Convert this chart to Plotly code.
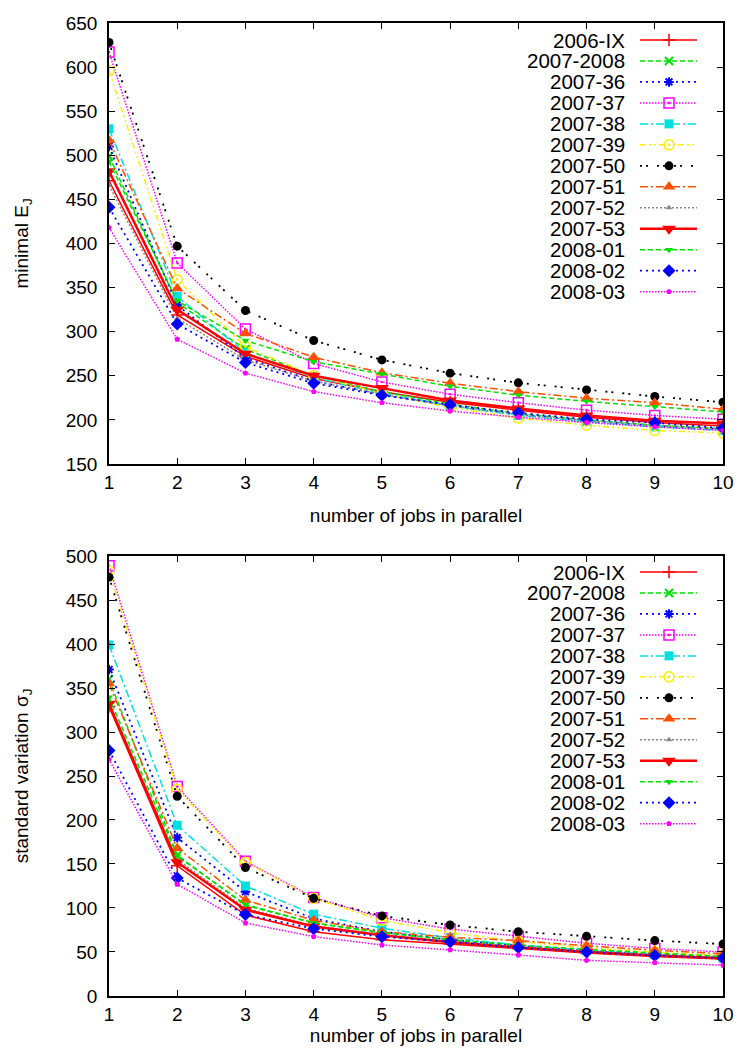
import plotly.graph_objects as go

jobs = [1, 2, 3, 4, 5, 6, 7, 8, 9, 10]
series_names = ["2006-IX", "2007-2008", "2007-36", "2007-37", "2007-38", "2007-39",
                "2007-50", "2007-51", "2007-52", "2007-53", "2008-01", "2008-02", "2008-03"]

# minimal E_J
ej_2006_IX = [471, 319, 272, 247, 232, 220, 211, 203, 197, 193]
ej_2007_2008 = [499, 333, 280, 250, 232, 218, 207, 200, 194, 190]
ej_2007_36 = [510, 330, 270, 244, 229, 216, 206, 199, 193, 189]
ej_2007_37 = [617, 378, 303, 264, 243, 229, 219.5, 211, 205, 200.7]
ej_2007_38 = [530, 340, 276, 248, 230, 216, 205, 198, 192, 188]
ej_2007_39 = [596, 359, 283, 250, 230, 214, 202, 194, 188, 185]
ej_2007_50 = [628, 397, 324, 290, 268, 253, 242, 234, 226.5, 220]
ej_2007_51 = [517, 349, 298, 271, 253.5, 241.5, 232, 224.5, 219.5, 212]
ej_2007_52 = [466, 315, 268, 244, 229, 216, 206, 199, 194, 190]
ej_2007_53 = [482, 325, 275, 250, 236, 222, 213, 205, 199, 196]
ej_2008_01 = [493, 335, 290, 266, 252, 238, 228, 221, 215, 209]
ej_2008_02 = [441, 308.7, 265, 241.5, 228, 217, 208, 200.7, 196.8, 190.5]
ej_2008_03 = [418, 291.4, 253, 232, 219.5, 210, 203, 197, 192, 188]

# standard variation sigma_J
sj_2006_IX = [329, 148, 92, 73, 64, 59, 54, 49, 45, 42]
sj_2007_2008 = [360, 160, 103, 83, 72, 64, 57, 52, 48, 44]
sj_2007_36 = [371, 180, 118.5, 88, 73, 64, 57, 51, 47, 43]
sj_2007_37 = [489, 238, 153, 112, 89, 76, 68, 60, 54, 50]
sj_2007_38 = [399, 194, 125, 93, 77, 66, 58, 52, 47, 43]
sj_2007_39 = [483, 235, 152, 111, 86, 72, 62, 55, 50, 46]
sj_2007_50 = [476, 227, 146, 111, 91, 80.7, 73, 67.8, 63, 59]
sj_2007_51 = [355, 168, 109, 86, 73, 66.7, 63, 57, 52, 48]
sj_2007_52 = [334, 155, 100, 80, 70, 62, 56, 50, 46, 42]
sj_2007_53 = [332, 152, 98, 79, 69, 61, 55, 50, 46, 43]
sj_2008_01 = [339.5, 159, 104, 83, 72, 64, 58, 53, 49, 45]
sj_2008_02 = [279, 134, 92.5, 76.5, 67.4, 61.7, 55, 50, 46, 43]
sj_2008_03 = [269, 127, 83, 67.5, 58, 52.6, 46.6, 40.5, 38, 35]

ej_values = [ej_2006_IX, ej_2007_2008, ej_2007_36, ej_2007_37, ej_2007_38, ej_2007_39,
             ej_2007_50, ej_2007_51, ej_2007_52, ej_2007_53, ej_2008_01, ej_2008_02, ej_2008_03]
sj_values = [sj_2006_IX, sj_2007_2008, sj_2007_36, sj_2007_37, sj_2007_38, sj_2007_39,
             sj_2007_50, sj_2007_51, sj_2007_52, sj_2007_53, sj_2008_01, sj_2008_02, sj_2008_03]

# styles: (color, dash, width, symbol, marker size, marker line width)
styles = [
    ("#ff0000", "solid", 1.5, "cross-thin", 9, 1.5),
    ("#00e000", "5px,3px", 1.5, "x-thin", 8, 2),
    ("#0000ff", "2px,4px", 1.8, "asterisk", 8, 2),
    ("#ff00ff", "1.5px,1.5px", 1.5, "square-open-dot", 10, 1.5),
    ("#00e0e0", "8px,3px,2px,3px", 1.5, "square", 9, 0),
    ("#ffee00", "6px,3px,2px,3px,2px,3px", 1.5, "circle-open-dot", 10, 1.5),
    ("#000000", "2px,4px,2px,9px", 1.8, "circle", 9, 0),
    ("#ff5000", "8px,3px,2px,3px", 1.5, "triangle-up", 11, 0),
    ("#888888", "2px,2px", 1.5, "triangle-up", 6, 0),
    ("#ff0000", "solid", 2.5, "triangle-down", 12, 0),
    ("#00e000", "5px,3px", 1.5, "triangle-down", 7, 0),
    ("#0000ff", "2px,4px", 1.8, "diamond", 10, 0),
    ("#ff00ff", "1.5px,1.5px", 1.5, "pentagon", 6, 0),
]

fig = go.Figure()

FONT = "Liberation Sans, Arial, sans-serif"

for vals, xa, ya in [(ej_values, "x", "y"), (sj_values, "x2", "y2")]:
    for name, v, st in zip(series_names, vals, styles):
        color, dash, width, sym, msize, mlw = st
        fig.add_trace(go.Scatter(
            x=jobs, y=v, name=name, mode="lines+markers", xaxis=xa, yaxis=ya,
            line=dict(color=color, dash=dash, width=width),
            marker=dict(symbol=sym, size=msize, color=color,
                        line=dict(color=color, width=mlw)),
            showlegend=False))

# custom gnuplot-style legends drawn on a pixel-like overlay axis
annotations = []
legend_tops = [40, 572]
row_step = 20.97
text_right, seg_x0, seg_x1, mark_x = 627, 640, 697, 669
for top in legend_tops:
    for i, (name, st) in enumerate(zip(series_names, styles)):
        color, dash, width, sym, msize, mlw = st
        yy = top + i * row_step
        fig.add_trace(go.Scatter(
            x=[seg_x0, seg_x1], y=[yy, yy], mode="lines", xaxis="x3", yaxis="y3",
            line=dict(color=color, dash=dash, width=width), showlegend=False,
            hoverinfo="skip"))
        fig.add_trace(go.Scatter(
            x=[mark_x], y=[yy], mode="markers", xaxis="x3", yaxis="y3",
            marker=dict(symbol=sym, size=msize, color=color,
                        line=dict(color=color, width=mlw)),
            showlegend=False, hoverinfo="skip"))
        annotations.append(dict(
            x=text_right, y=yy, xref="x3", yref="y3", text=name, showarrow=False,
            xanchor="right", yanchor="middle",
            font=dict(family=FONT, size=20.5, color="black")))

axis_common = dict(
    showline=True, linecolor="black", linewidth=1.5, mirror="allticks",
    ticks="inside", ticklen=6, tickwidth=1.2, tickcolor="black",
    showgrid=False, zeroline=False, automargin=False,
    tickfont=dict(family=FONT, size=19, color="black"),
)

top_dom = [0.5468, 1.0]
bot_dom = [0.0, 0.4522]
TFONT = dict(family=FONT, size=19, color="black")

fig.update_layout(
    width=739, height=1061,
    margin=dict(l=109, r=16, t=23, b=65, autoexpand=False),
    paper_bgcolor="white", plot_bgcolor="rgba(0,0,0,0)",
    font=dict(family=FONT, size=19, color="black"),
    annotations=annotations,
    xaxis=dict(axis_common, domain=[0, 1], anchor="y", range=[1, 10], dtick=1,
               title=dict(text="number of jobs in parallel", font=TFONT, standoff=17)),
    yaxis=dict(axis_common, domain=top_dom, anchor="x", range=[150, 650], dtick=50,
               ticklabelstandoff=6,
               title=dict(text="minimal E<sub>J</sub>", font=TFONT, standoff=32)),
    xaxis2=dict(axis_common, domain=[0, 1], anchor="y2", range=[1, 10], dtick=1,
                title=dict(text="number of jobs in parallel", font=TFONT, standoff=0)),
    yaxis2=dict(axis_common, domain=bot_dom, anchor="x2", range=[0, 500], dtick=50,
                ticklabelstandoff=6,
                title=dict(text="standard variation σ<sub>J</sub>", font=TFONT, standoff=32)),
    xaxis3=dict(domain=[0, 1], anchor="y3", range=[109, 723], visible=False,
                fixedrange=True, automargin=False),
    yaxis3=dict(domain=[0, 1], anchor="x3", range=[996, 23], visible=False,
                fixedrange=True, automargin=False),
)

fig.write_html("out.html", config={"displayModeBar": False},
               post_script="document.body.style.margin='0';document.body.style.overflow='hidden';")
